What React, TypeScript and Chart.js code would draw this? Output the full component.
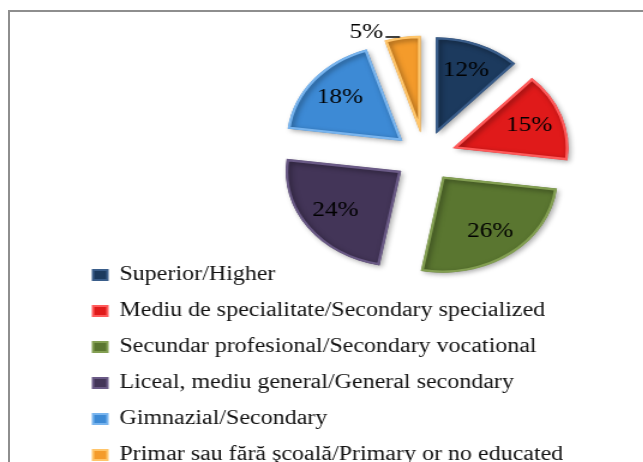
import React, { useEffect, useRef } from 'react';
import { Chart, registerables } from 'chart.js';

Chart.register(...registerables);

const categories = [
  'Superior/Higher',
  'Mediu de specialitate/Secondary specialized',
  'Secundar profesional/Secondary vocational',
  'Liceal, mediu general/General secondary',
  'Gimnazial/Secondary',
  'Primar sau fără şcoală/Primary or no educated',
];
const shares = [12, 15, 26, 24, 18, 5];
const sliceColors = ['#1C3A5E', '#E01A1A', '#5A7630', '#433558', '#3D8AD5', '#F49B2B'];
const sliceEdges = ['#3A5D8A', '#FF5A5A', '#839F52', '#6A5A86', '#78B4EE', '#FFC56A'];

const FONT = '"Liberation Serif", "Times New Roman", serif';
const STRETCH = 1.2;
const W = 643 / STRETCH;
const H = 462;
const EXPLODE = 25;

const legendPlacer = {
  id: 'legendPlacer',
  afterLayout(chart: any) {
    const lg = chart.legend;
    if (!lg) return;
    lg.left = 61.5;
    lg.top = 249;
    lg.right = lg.left + 500;
    lg.bottom = 540;
    lg.width = 500;
    lg.height = 540 - 249;
  },
};

const sliceDecor = {
  id: 'sliceDecor',
  beforeDatasetDraw(chart: any, args: any) {
    const ctx = chart.ctx;
    ctx.save();
    ctx.shadowColor = 'rgba(0,0,0,0.35)';
    ctx.shadowBlur = 5;
    ctx.shadowOffsetX = 2;
    ctx.shadowOffsetY = 2;
    args.meta.data.forEach((arc: any) => {
      const mid = (arc.startAngle + arc.endAngle) / 2;
      ctx.save();
      ctx.translate(Math.cos(mid) * EXPLODE, Math.sin(mid) * EXPLODE);
      arc.draw(ctx, chart.chartArea);
      ctx.restore();
    });
    ctx.restore();
    return false;
  },
  afterDatasetsDraw(chart: any) {
    const ctx = chart.ctx;
    const meta = chart.getDatasetMeta(0);
    const data = chart.data.datasets[0].data as number[];
    const total = data.reduce((a, b) => a + b, 0);
    ctx.save();
    ctx.font = `21px ${FONT}`;
    ctx.fillStyle = '#000';
    ctx.textBaseline = 'middle';
    meta.data.forEach((arc: any, i: number) => {
      const p = arc.getProps(['x', 'y', 'startAngle', 'endAngle', 'outerRadius'], true);
      const mid = (p.startAngle + p.endAngle) / 2;
      const cx = p.x + Math.cos(mid) * EXPLODE;
      const cy = p.y + Math.sin(mid) * EXPLODE;
      const pct = Math.round((data[i] / total) * 100) + '%';
      if (data[i] / total < 0.08) {
        const px = cx + Math.cos(mid) * p.outerRadius;
        const py = cy + Math.sin(mid) * p.outerRadius;
        ctx.strokeStyle = '#000';
        ctx.lineWidth = 1.5;
        ctx.beginPath();
        ctx.moveTo(px - 2, py);
        ctx.lineTo(px - 14, py);
        ctx.stroke();
        ctx.textAlign = 'right';
        ctx.fillText(pct, px - 16, py - 5);
      } else {
        const r = p.outerRadius * 0.7;
        ctx.textAlign = 'center';
        ctx.fillText(pct, cx + Math.cos(mid) * r, cy + Math.sin(mid) * r);
      }
    });
    ctx.restore();
  },
};

export default function App() {
  const ref = useRef<HTMLCanvasElement | null>(null);
  useEffect(() => {
    if (!ref.current) return;
    const chart = new Chart(ref.current, {
      type: 'pie',
      data: {
        labels: categories,
        datasets: [
          {
            data: shares,
            backgroundColor: sliceColors,
            borderColor: sliceEdges,
            borderWidth: 2,
            borderAlign: 'inner',
            radius: 96,
          } as any,
        ],
      },
      options: {
        responsive: false,
        animation: false,
        layout: { padding: { left: 180.4, right: 8, top: 8, bottom: 157 } },
        plugins: {
          tooltip: { enabled: false },
          legend: {
            position: 'chartArea' as any,
            align: 'start',
            labels: {
              color: '#111',
              font: { family: FONT, size: 20 },
              boxWidth: 12,
              boxHeight: 10,
              padding: 16,
            },
          },
        },
      },
      plugins: [legendPlacer, sliceDecor],
    });
    return () => chart.destroy();
  }, []);

  return (
    <div style={{ position: 'fixed', left: 0, top: 0, width: 643, height: 462, overflow: 'hidden', background: '#fff' }}>
      <div
        style={{
          position: 'absolute',
          left: 8,
          top: 10,
          width: 700,
          height: 520,
          border: '2px solid #8e8e8e',
          boxSizing: 'border-box',
        }}
      />
      <div
        style={{
          position: 'absolute',
          left: 0,
          top: 0,
          width: W,
          height: H,
          transform: `scaleX(${STRETCH})`,
          transformOrigin: '0 0',
        }}
      >
        <canvas ref={ref} width={Math.round(W)} height={H} style={{ width: Math.round(W), height: H, display: 'block' }} />
      </div>
    </div>
  );
}
